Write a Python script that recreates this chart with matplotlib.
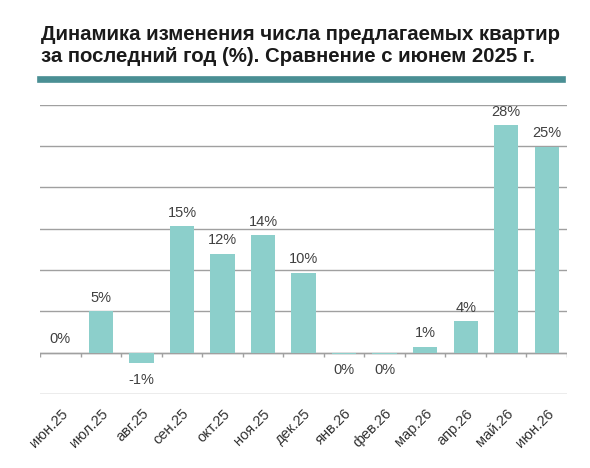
import matplotlib
matplotlib.use("Agg")
import matplotlib.pyplot as plt
import numpy as np

plt.rcParams['font.family'] = ['Liberation Sans', 'DejaVu Sans']

months = ['июн.25', 'июл.25', 'авг.25', 'сен.25', 'окт.25', 'ноя.25', 'дек.25',
          'янв.26', 'фев.26', 'мар.26', 'апр.26', 'май.26', 'июн.26']
values = [0.0, 5.0, -1.2, 15.3, 12.0, 14.2, 9.7, -0.1, -0.1, 0.7, 3.8, 27.5, 24.9]
labels = ['0%', '5%', '-1%', '15%', '12%', '14%', '10%', '0%', '0%', '1%', '4%', '28%', '25%']

fig = plt.figure(figsize=(5.9, 4.68), dpi=100)
ax = fig.add_axes([0.068, 0.158, 0.893, 0.618])

x = np.arange(len(months))
ax.bar(x, values, width=0.6, color='#8ccfcb', zorder=3)

ax.set_ylim(-5, 30)
ax.set_xlim(-0.5, len(months) - 0.5)
ax.set_yticks(np.arange(-5, 31, 5))
ax.yaxis.grid(True, color='#a0a0a0', linewidth=1, zorder=0)
ax.tick_params(axis='y', length=0, labelleft=False)
for s in ax.spines.values():
    s.set_visible(False)

# zero axis with category boundary ticks
ax.axhline(0, color='#a0a0a0', linewidth=1, zorder=2)
ax.vlines(np.arange(len(months) + 1) - 0.5, -0.5, 0, color='#a0a0a0', linewidth=1, zorder=2)

ax.set_xticks(x)
ax.set_xticklabels(months, rotation=45, ha='right', rotation_mode='anchor',
                   fontsize=10.5, color='#333333')
ax.tick_params(axis='x', length=0, pad=9)

for xi, v, lab in zip(x, values, labels):
    if v < 0:
        ax.text(xi, v - 1.2, lab, ha='center', va='top', fontsize=10.5, color='#404040')
    else:
        ax.text(xi, v + 0.8, lab, ha='center', va='bottom', fontsize=10.5, color='#404040')

fig.text(0.070, 0.946, 'Динамика изменения числа предлагаемых квартир\nза последний год (%). Сравнение с июнем 2025 г.',
         ha='left', va='top', fontsize=14.7, fontweight='bold', color='#1a1a1a', linespacing=1.2)

fig.add_artist(plt.Line2D([0.068, 0.952], [0.831, 0.831], color='#4a8f94', linewidth=4.8,
                          transform=fig.transFigure))

fig.savefig('out.png', dpi=100)
